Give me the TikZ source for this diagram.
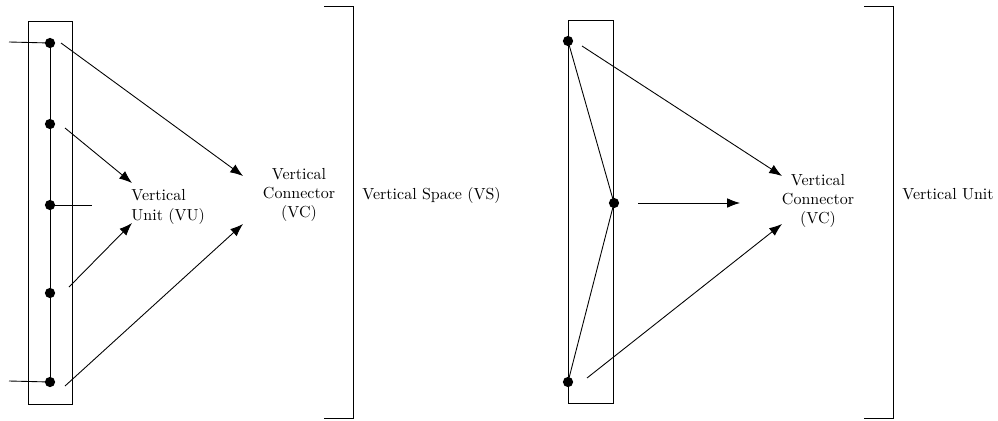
\documentclass[tikz,border=0pt]{standalone}
\usetikzlibrary{arrows.meta}
\begin{document}
\begin{tikzpicture}[x=0.625pt,y=-0.625pt,line width=0.55pt,
  dotnode/.style={circle,fill=black,inner sep=0pt,minimum size=6.4pt},
  arr/.style={-{Latex[length=8pt,width=6pt]}},
  lbl/.style={inner sep=0pt,font=\normalsize},
  frame/.style={draw,rectangle,inner sep=0pt,outer sep=0pt,minimum height=239.4pt}]
\useasboundingbox (0,0) rectangle (998,420);
% ---------- left panel ----------
\node[frame,minimum width=27.5pt] (lrect) at (50,212.5) {};
\node[dotnode] (l1) at (50,43) {};
\node[dotnode] (l2) at (50,124) {};
\node[dotnode] (l3) at (50,205) {};
\node[dotnode] (l4) at (50,293) {};
\node[dotnode] (l5) at (50,382) {};
\draw (l1.center) -- (l5.center);
\coordinate (lin1) at (9,42);
\coordinate (lin5) at (9,381);
\coordinate (lout3) at (92,205);
\draw (lin1) -- (l1.center);
\draw (lin5) -- (l5.center);
\draw (l3.center) -- (lout3);
\node[lbl,anchor=west,align=left] (vu) at (131,207) {Vertical\\Unit (VU)};
\node[lbl,align=center] (vcl) at (299,195) {Vertical\\Connector\\(VC)};
\coordinate (a1s) at (61,43);   \coordinate (a1e) at (243,176);
\coordinate (a2s) at (65,128);  \coordinate (a2e) at (132,183);
\coordinate (a3s) at (69,287);  \coordinate (a3e) at (132,223);
\coordinate (a4s) at (65,386);  \coordinate (a4e) at (243,224);
\draw[arr] (a1s) -- (a1e);
\draw[arr] (a2s) -- (a2e);
\draw[arr] (a3s) -- (a3e);
\draw[arr] (a4s) -- (a4e);
\coordinate (lb1) at (324,6); \coordinate (lb2) at (353,6);
\coordinate (lb3) at (353,418); \coordinate (lb4) at (324,418);
\draw (lb1) -- (lb2) -- (lb3) -- (lb4);
\node[lbl,anchor=west] (vs) at (362,195) {Vertical Space (VS)};
% ---------- right panel ----------
\node[frame,minimum width=28.1pt] (rrect) at (590.5,211.5) {};
\node[dotnode] (r1) at (568,41) {};
\node[dotnode] (r2) at (614,203) {};
\node[dotnode] (r3) at (568,382) {};
\draw (r1.center) -- (r2.center) -- (r3.center);
\node[lbl,align=center] (vcr) at (818,201) {Vertical\\Connector\\(VC)};
\coordinate (b1s) at (582,46);  \coordinate (b1e) at (782,176);
\coordinate (b2s) at (638,203); \coordinate (b2e) at (740,203);
\coordinate (b3s) at (587,378); \coordinate (b3e) at (782,224);
\draw[arr] (b1s) -- (b1e);
\draw[arr] (b2s) -- (b2e);
\draw[arr] (b3s) -- (b3e);
\coordinate (rb1) at (864,6); \coordinate (rb2) at (893,6);
\coordinate (rb3) at (893,418); \coordinate (rb4) at (864,418);
\draw (rb1) -- (rb2) -- (rb3) -- (rb4);
\node[lbl,anchor=west] (vunit) at (902,194) {Vertical Unit};
\end{tikzpicture}
\end{document}
